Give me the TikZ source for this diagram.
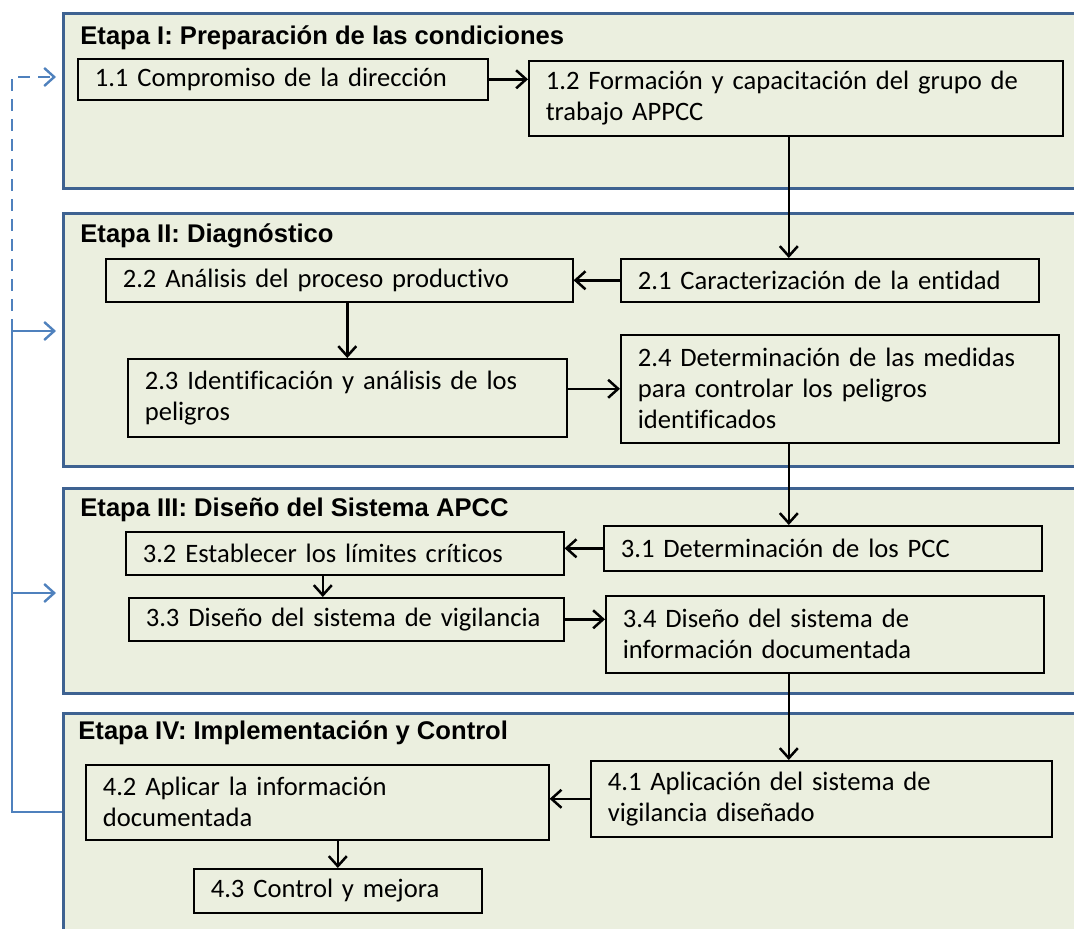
\documentclass[tikz,border=0pt]{standalone}
\usepackage{fontspec}
\setmainfont{Carlito}[Ligatures=NoCommon]
\newfontfamily\etapafont{Liberation Sans}
\usepackage{tikz}
\usetikzlibrary{positioning}
\usetikzlibrary{arrows.meta}
\definecolor{fondo}{RGB}{235,239,223}
\definecolor{marco}{RGB}{62,98,145}
\definecolor{azul}{RGB}{79,129,189}

\begin{document}
\begin{tikzpicture}[x=0.5pt,y=-0.5pt,>={Straight Barb[length=5pt,width=9pt]},
    etapa/.style={draw=marco,line width=1.6pt,fill=fondo,anchor=north west,inner sep=0pt,minimum width=520pt},
    titulo/.style={anchor=west,inner sep=0pt,font=\etapafont\bfseries\fontsize{12.8}{15}\selectfont},
    paso/.style={draw,line width=0.8pt,fill=fondo,anchor=north west,align=left,inner xsep=8.5pt,inner ysep=0pt,font=\fontsize{13.3}{15.5}\selectfont},
    flecha/.style={line width=1.25pt,->},
    retro/.style={azul,line width=1.2pt}]
    \useasboundingbox (0,0) rectangle (1074,929);
    % etapas
    \node [etapa,minimum height=87.5pt]  (f1) at (62,12)  {};
    \node [etapa,minimum height=126.5pt] (f2) at (62,212) {};
    \node [etapa,minimum height=102.5pt] (f3) at (62,487) {};
    \node [etapa,minimum height=119pt]   (f4) at (62,712) {};
    \node [titulo] (e1) at (80,38)  {Etapa I: Preparación de las condiciones};
    \node [titulo] (e2) at (80,236) {Etapa II: Diagnóstico};
    \node [titulo] (e3) at (80,510) {Etapa III: Diseño del Sistema APCC};
    \node [titulo] (e4) at (78,733) {Etapa IV: Implementación y Control};
    % pasos
    \node [paso,text width=188pt,minimum height=20.5pt] (p11) at (77,58)  {1.1 Compromiso de la dirección};
    \node [paso,text width=250pt,minimum height=37.5pt] (p12) at (528,60) {1.2 Formación y capacitación del grupo de\\trabajo APPCC};
    \node [paso,text width=192pt,minimum height=21.5pt] (p21) at (620,258) {2.1 Caracterización de la entidad};
    \node [paso,text width=216.5pt,minimum height=21.5pt] (p22) at (105,258) {2.2 Análisis del proceso productivo};
    \node [paso,text width=202.5pt,minimum height=39pt] (p23) at (127,358) {2.3 Identificación y análisis de los\\peligros};
    \node [paso,text width=202pt,minimum height=54pt] (p24) at (620,334) {2.4 Determinación de las medidas\\para controlar los peligros\\identificados};
    \node [paso,text width=202pt,minimum height=22.5pt] (p31) at (603,525) {3.1 Determinación de los PCC};
    \node [paso,text width=202pt,minimum height=21.5pt] (p32) at (125,531) {3.2 Establecer los límites críticos};
    \node [paso,text width=200.5pt,minimum height=21.5pt] (p33) at (128,597) {3.3 Diseño del sistema de vigilancia};
    \node [paso,text width=202pt,minimum height=38.5pt] (p34) at (605,595) {3.4 Diseño del sistema de\\información documentada};
    \node [paso,text width=213.5pt,minimum height=38pt] (p41) at (590,760) {4.1 Aplicación del sistema de\\vigilancia diseñado};
    \node [paso,text width=214.5pt,minimum height=37.5pt] (p42) at (85,764) {4.2 Aplicar la información\\documentada};
    \node [paso,text width=127pt,minimum height=22pt] (p43) at (193,868) {4.3 Control y mejora};
    % flechas
    \draw [flecha] (p11.east) -- (p11.east -| p12.west);
    \draw [flecha] ([xshift=-3.5pt]p12.south) -- ([xshift=-3.5pt]p12.south |- p21.north);
    \draw [flecha] (p21.west) -- (p21.west -| p22.east);
    \draw [flecha] (p23.north |- p22.south) -- (p23.north);
    \draw [flecha] (p23.east |- p24.west) -- (p24.west);
    \draw [flecha] ([xshift=-25.5pt]p24.south) -- ([xshift=-25.5pt]p24.south |- p31.north);
    \draw [flecha] (p31.west) -- (p31.west -| p32.east);
    \draw [flecha] ([xshift=-11pt]p32.south) -- ([xshift=-11pt]p32.south |- p33.north);
    \draw [flecha] (p33.east) -- (p33.east -| p34.west);
    \draw [flecha] ([xshift=-18pt]p34.south) -- ([xshift=-18pt]p34.south |- p41.north);
    \draw [flecha] (p41.west) -- (p41.west -| p42.east);
    \draw [flecha] (p43.north |- p42.south) -- (p43.north);
    % retroalimentacion
    \coordinate (rb) at (12,812);
    \coordinate (r1) at (12,77);
    \coordinate (r2) at (12,331);
    \coordinate (r3) at (12,593);
    \draw [retro] (f4.west |- rb) -- (rb) -- (r2);
    \draw [retro,->,shorten >=3pt] (r2) -- (r2 -| f2.west);
    \draw [retro,->,shorten >=3pt] (r3) -- (r3 -| f3.west);
    \draw [retro,->,shorten >=3pt,dash pattern=on 6pt off 4pt] (r2) -- (r1) -- (r1 -| f1.west);
\end{tikzpicture}
\end{document}
